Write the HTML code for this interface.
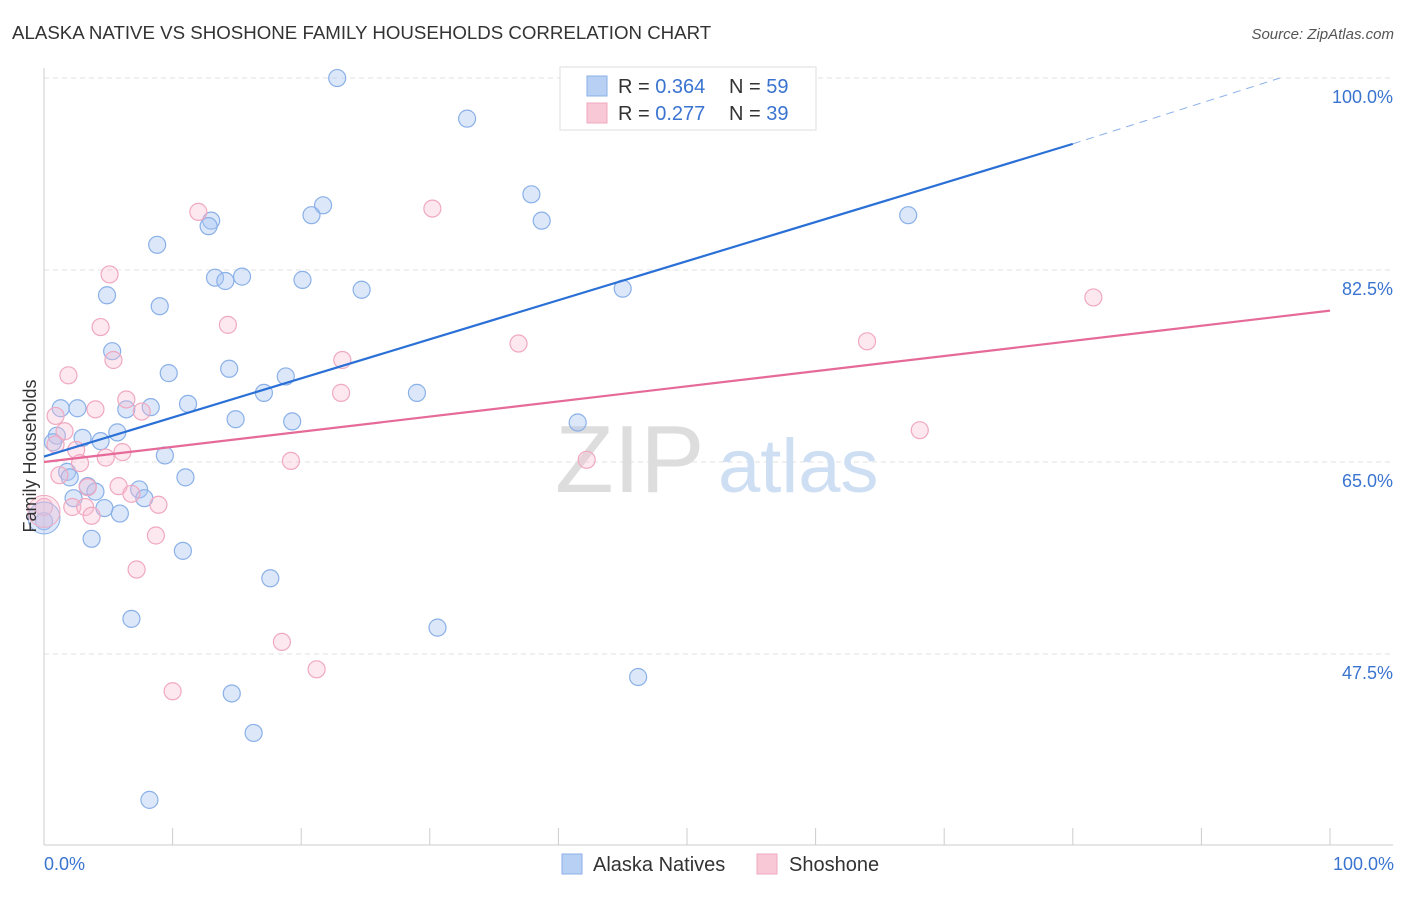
<!DOCTYPE html>
<html><head><meta charset="utf-8"><style>
body{margin:0;background:#fff;font-family:"Liberation Sans",sans-serif;}
svg text{font-family:"Liberation Sans",sans-serif;}
</style></head><body>
<svg width="1406" height="892">
<text x="12" y="39" font-size="18.7" fill="#333">ALASKA NATIVE VS SHOSHONE FAMILY HOUSEHOLDS CORRELATION CHART</text>
<text x="1394" y="39" font-size="15" fill="#555" font-style="italic" text-anchor="end">Source: ZipAtlas.com</text>
<g id="grid"></g>
<text x="555" y="492" font-size="96" fill="#ddd" font-family="Liberation Serif">ZIP</text>
<text x="718" y="492" font-size="76" fill="#cfdff3">atlas</text>
<line x1="44" y1="68" x2="44" y2="845" stroke="#ccc"/>
<line x1="44" y1="845" x2="1393" y2="845" stroke="#ccc"/>
<g id="ticks"></g>
<g id="pts"></g>
<g id="lines"></g>
<text x="36" y="456" font-size="18" fill="#333" text-anchor="middle" transform="rotate(-90 36 456)">Family Households</text>
<text x="44" y="870" font-size="18" fill="#3a74d0">0.0%</text>
<text x="1394" y="870" font-size="18" fill="#3a74d0" text-anchor="end">100.0%</text>
<g>
<rect x="560" y="67" width="256" height="63" fill="#fff" stroke="#ddd"/>
<rect x="587" y="76" width="20" height="20" fill="#b8d0f4" stroke="#8ab0e8"/>
<rect x="587" y="103" width="20" height="20" fill="#f9c8d6" stroke="#f0a8c0"/>
<text x="618" y="93" font-size="20" fill="#333">R = <tspan fill="#3a74d0">0.364</tspan></text>
<text x="729" y="93" font-size="20" fill="#333">N = <tspan fill="#3a74d0">59</tspan></text>
<text x="618" y="120" font-size="20" fill="#333">R = <tspan fill="#3a74d0"> 0.277</tspan></text>
<text x="729" y="120" font-size="20" fill="#333">N = <tspan fill="#3a74d0">39</tspan></text>
</g>
<g>
<rect x="562" y="854" width="20" height="20" fill="#b8d0f4" stroke="#8ab0e8"/>
<text x="593" y="871" font-size="20" fill="#333">Alaska Natives</text>
<rect x="757" y="854" width="20" height="20" fill="#f9c8d6" stroke="#f0a8c0"/>
<text x="789" y="871" font-size="20" fill="#333">Shoshone</text>
</g>
</svg>
<script>
const yTicks=[100,82.5,65,47.5];
const yTickLabels=["100.0%","82.5%","65.0%","47.5%"];
const xTicks=[0,10,20,30,40,50,60,70,80,90,100];
const alaskaX=[22.8,32.9,37.9,38.7,67.2,21.7,20.8,13,12.8,8.8,13.3,14.1,15.4,20.1,24.7,45,4.9,9,5.3,9.7,14.4,18.8,17.1,29,1.3,2.6,6.4,8.3,11.2,14.9,19.3,41.5,1,3,4.4,5.7,0.7,9.4,1.8,2,11,3.4,4,7.4,2.3,7.8,4.7,5.9,0,3.7,10.8,17.6,6.8,30.6,46.2,14.6,16.3,8.2];
const alaskaY=[100,96.3,89.4,87,87.5,88.4,87.5,87,86.5,84.8,81.8,81.5,81.9,81.6,80.7,80.8,80.2,79.2,75.1,73.1,73.5,72.8,71.3,71.3,69.9,69.9,69.8,70,70.3,68.9,68.7,68.6,67.4,67.2,66.9,67.7,66.8,65.6,64.1,63.6,63.6,62.8,62.3,62.5,61.7,61.7,60.8,60.3,59.6,58,56.9,54.4,50.7,49.9,45.4,43.9,40.3,34.2];
const shoshoneX=[12,30.2,5.1,81.6,4.4,14.3,36.9,64,5.4,23.2,1.9,23.1,6.4,4,7.6,0.9,68.1,1.6,42.2,0.9,2.5,6.1,4.8,2.8,19.2,1.2,3.4,5.8,6.8,2.2,3.2,8.9,3.7,0,8.7,7.2,18.5,21.2,10];
const shoshoneY=[87.8,88.1,82.1,80,77.3,77.5,75.8,76,74.3,74.3,72.9,71.3,70.7,69.8,69.6,69.2,67.9,67.8,65.2,66.6,66.1,65.9,65.4,64.9,65.1,63.8,62.7,62.8,62.1,60.9,60.9,61.1,60.1,60.9,58.3,55.2,48.6,46.1,44.1];
const ns='http://www.w3.org/2000/svg';
const X=v=>44+v*12.86, Y=v=>462-(v-65)*10.97;
const grid=document.getElementById('grid');
yTicks.forEach((t,i)=>{
 const l=document.createElementNS(ns,'line');
 l.setAttribute('x1',44);l.setAttribute('x2',1393);l.setAttribute('y1',Y(t));l.setAttribute('y2',Y(t));
 l.setAttribute('stroke','#e2e2e2');l.setAttribute('stroke-dasharray','5,4');
 
 
 grid.appendChild(l);
 const tx=document.createElementNS(ns,'text');
 tx.setAttribute('x',1393);tx.setAttribute('y',Y(t)+25);tx.setAttribute('text-anchor','end');
 tx.setAttribute('font-size','18');tx.setAttribute('fill','#3a74d0');tx.textContent=yTickLabels[i];
 
 
 grid.appendChild(tx);
});
const tk=document.getElementById('ticks');
xTicks.forEach(t=>{
 const l=document.createElementNS(ns,'line');
 l.setAttribute('x1',X(t));l.setAttribute('x2',X(t));l.setAttribute('y1',828);l.setAttribute('y2',845);
 l.setAttribute('stroke','#ccc');
 
 
 tk.appendChild(l);
});
const pts=document.getElementById('pts');
function dots(xs,ys,fill,stroke,name){
 xs.forEach((x,i)=>{
  const c=document.createElementNS(ns,'circle');
  c.setAttribute('cx',X(x));c.setAttribute('cy',Y(ys[i]));c.setAttribute('r',8.5);
  c.setAttribute('fill',fill);c.setAttribute('stroke',stroke);c.setAttribute('stroke-width','1.2');
  
  
  pts.appendChild(c);
 });
}
dots(alaskaX,alaskaY,'rgba(168,198,242,0.4)','#8ab0e8','alaska-point');
dots(shoshoneX,shoshoneY,'rgba(248,190,208,0.35)','#f0a8c0','shoshone-point');
[[0,59.9,'rgba(168,198,242,0.4)','#8ab0e8'],[0,60.5,'rgba(248,190,208,0.35)','#f0a8c0']].forEach(b=>{
 const c=document.createElementNS(ns,'circle');
 c.setAttribute('cx',X(b[0]));c.setAttribute('cy',Y(b[1]));c.setAttribute('r',16);
 c.setAttribute('fill',b[2]);c.setAttribute('stroke',b[3]);
 
 
 pts.appendChild(c);
});
const lines=document.getElementById('lines');
function ln(x1,y1,x2,y2,col,dash,name){
 const l=document.createElementNS(ns,'line');
 l.setAttribute('x1',X(x1));l.setAttribute('y1',Y(y1));l.setAttribute('x2',X(x2));l.setAttribute('y2',Y(y2));
 l.setAttribute('stroke',col);l.setAttribute('stroke-width',dash?1:2.2);
 if(dash)l.setAttribute('stroke-dasharray','8,6');
 
 
 lines.appendChild(l);
}
ln(0,65.5,80,94.0,'#2a70d6',false,'alaska-trend-line');
ln(80,94.0,96.1,100,'#8ab0e8',true,'alaska-trend-extension');
ln(0,65.0,100,78.8,'#e66a98',false,'shoshone-trend-line');
</script>
</body></html>
